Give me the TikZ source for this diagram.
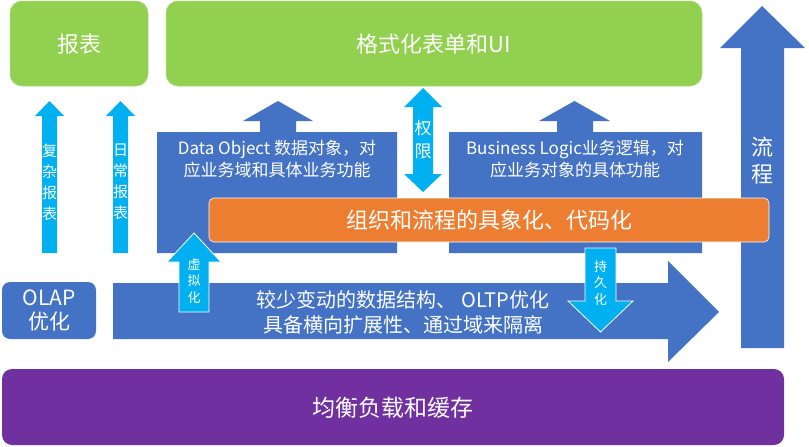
\documentclass[tikz,border=0pt]{standalone}
\usepackage{fontspec}
\setmainfont{Noto Sans CJK SC}
\definecolor{cgreen}{HTML}{92D050}
\definecolor{cblue}{HTML}{4472C4}
\definecolor{clight}{HTML}{00B0F0}
\definecolor{corange}{HTML}{ED7D31}
\definecolor{cpurple}{HTML}{7030A0}
\newcommand\fsz[2]{\fontsize{#1}{#2}\selectfont}
\begin{document}
\begin{tikzpicture}[x=1pt,y=-1pt,
  lbl/.style={text=white, inner sep=0pt, align=center},
  greenbox/.style={fill=cgreen, draw=cgreen!80!white, line width=0.5pt, rounded corners=12pt},
  bluefill/.style={fill=cblue},
  lightarrow/.style={fill=clight},
  lightout/.style={fill=clight, draw=white, line width=0.8pt}]
\useasboundingbox (0,0) rectangle (809,447);

% flow arrow on the right
\fill[bluefill] (741,348) -- (741,48) -- (720,48) -- (762,6) -- (805,48) -- (784,48) -- (784,348) -- cycle;
\node[lbl, font=\fsz{22}{27}] (liucheng) at (762.5,161) {流\\程};

% green boxes
\path[greenbox] (10,1) rectangle (148,86);
\node[lbl, font=\fsz{22}{26}] (baobiao) at (79,44) {报表};
\path[greenbox] (166,1) rectangle (702,86);
\node[lbl, font=\fsz{22}{26}] (geshi) at (434,44) {格式化表单和UI};

% Data Object block
\fill[bluefill] (157,253) -- (157,132) -- (260,132) -- (260,121) -- (243,121) -- (278,101) -- (313,121) -- (296,121) -- (296,132) -- (397,132) -- (397,253) -- cycle;
\node[lbl, font=\fsz{17}{22}] (dataobj) at (277,159) {Data Object 数据对象，对\\应业务域和具体业务功能};

% Business Logic block
\fill[bluefill] (449,253) -- (449,132) -- (557,132) -- (557,121) -- (539,121) -- (574.5,101) -- (610,121) -- (593,121) -- (593,132) -- (702,132) -- (702,253) -- cycle;
\node[lbl, font=\fsz{17}{22}] (bizlogic) at (575,159) {Business Logic业务逻辑，对\\应业务对象的具体功能};

% orange bar
\fill[corange, draw=white, line width=0.6pt, rounded corners=5pt] (209,198) rectangle (769,242);
\node[lbl, font=\fsz{22}{26}] (zuzhi) at (489,220) {组织和流程的具象化、代码化};

% big horizontal arrow
\fill[bluefill] (113,283) -- (668,283) -- (668,261) -- (719,312) -- (668,362) -- (668,339) -- (113,339) -- cycle;
\node[lbl, font=\fsz{20}{25}] (oltp) at (403,312) {较少变动的数据结构、 OLTP优化\\具备横向扩展性、通过域来隔离};

% OLAP box
\fill[bluefill, rounded corners=8pt] (2,282) rectangle (96,339);
\node[lbl, font=\fsz{21}{24}] (olap) at (49,311) {OLAP\\优化};

% purple bar
\fill[cpurple, rounded corners=10pt] (2,369) rectangle (784,445);
\node[lbl, font=\fsz{23}{26}] (junheng) at (393,408) {均衡负载和缓存};

% left light-blue arrows
\fill[lightarrow] (42,253) -- (42,116) -- (35,116) -- (49.5,101) -- (64,116) -- (57,116) -- (57,253) -- cycle;
\node[lbl, font=\fsz{15}{21}] (fuza) at (49.5,182) {复\\杂\\报\\表};
\fill[lightarrow] (113,253) -- (113,116) -- (106,116) -- (120.5,101) -- (135,116) -- (128,116) -- (128,253) -- cycle;
\node[lbl, font=\fsz{15}{21}] (richang) at (120.5,182) {日\\常\\报\\表};

% permission double arrow
\fill[lightarrow] (413,107) -- (404,107) -- (423,88) -- (442,107) -- (433,107) -- (433,174) -- (442,174) -- (423,192) -- (404,174) -- (413,174) -- cycle;
\node[lbl, font=\fsz{17}{23}] (quanxian) at (423,140) {权\\限};

% virtualization arrow
\path[lightout] (179,312) -- (179,262) -- (167,262) -- (194,233) -- (221,262) -- (209,262) -- (209,312) -- cycle;
\node[lbl, font=\fsz{13}{16.5}] (xuni) at (194,281) {虚\\拟\\化};

% persistence arrow
\path[lightout] (585,248) -- (616,248) -- (616,301) -- (633,301) -- (600.5,332) -- (568,301) -- (585,301) -- cycle;
\node[lbl, font=\fsz{13}{16.5}] (chijiu) at (600.5,283) {持\\久\\化};
\end{tikzpicture}
\end{document}
